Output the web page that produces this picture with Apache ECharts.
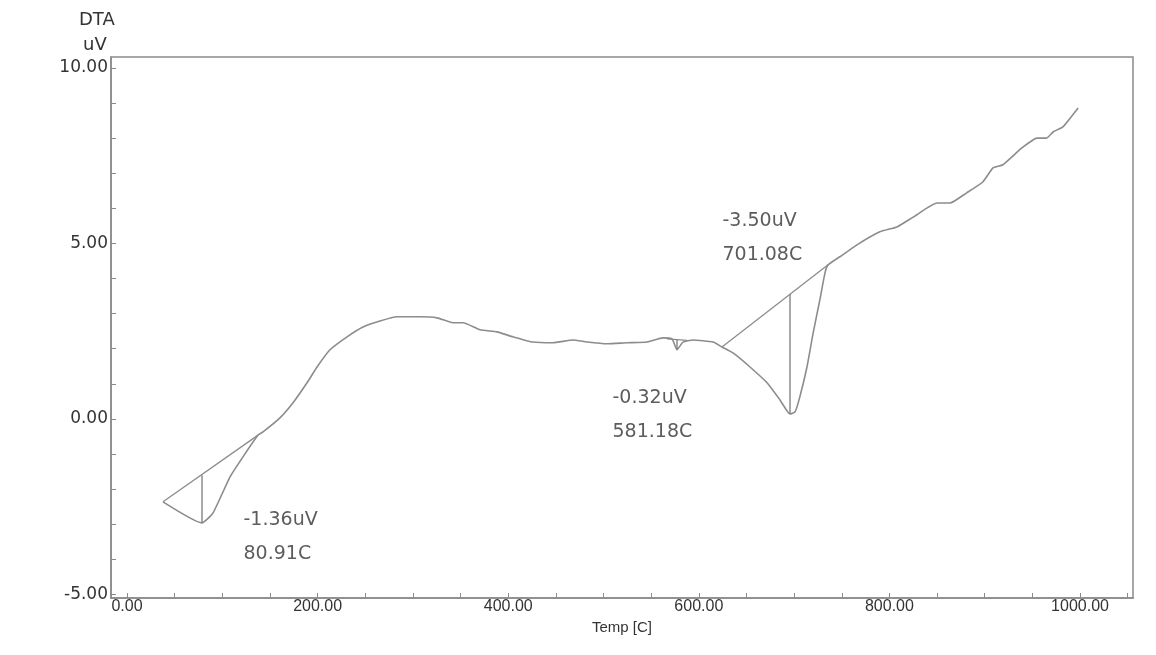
<!DOCTYPE html>
<html>
<head>
<meta charset="utf-8">
<script src="https://cdn.jsdelivr.net/npm/echarts@6/dist/echarts.min.js"></script>
<style>html,body{margin:0;padding:0;background:#fff;}#c{width:1156px;height:655px;}</style>
</head>
<body>
<div id="c"></div>
<script>
// DTA curve: temperature (C) and signal (uV)
const temps = [37.8,78.7,90.2,108.1,121.7,137.5,142.7,160.5,174.2,188.9,199.4,213,230.9,247.6,265.5,283.3,307.5,325.3,342.1,352.6,370.4,388.2,405,426,447,468,482.7,503.7,524.7,545.6,562.4,571.9,577.1,583.4,593.9,614.9,624.3,635.9,653.7,671.6,685.2,695.7,701,706,713.5,720,727,732.4,735.6,748,766,790,808,825,850,863.6,881,898,908.7,919,939,955,965,972,982,998];
const dta   = [-2.36,-2.96,-2.68,-1.65,-1.08,-0.46,-0.37,0.03,0.46,1.03,1.48,1.97,2.34,2.62,2.79,2.91,2.91,2.88,2.74,2.74,2.54,2.48,2.34,2.19,2.17,2.25,2.19,2.14,2.17,2.19,2.31,2.28,1.97,2.19,2.25,2.19,2.05,1.88,1.48,1.03,0.54,0.14,0.2,0.63,1.48,2.45,3.39,4.16,4.39,4.62,4.96,5.33,5.47,5.75,6.15,6.15,6.44,6.75,7.15,7.24,7.72,8.0,8.0,8.18,8.32,8.86];

// Peak baselines (start T, start V, end T, end V) and peak verticals (T, bottom V, top V)
const baseStartT = [37.8, 566.6, 624.3];
const baseStartV = [-2.36, 2.28, 2.05];
const baseEndT   = [137.5, 587.6, 735.6];
const baseEndV   = [-0.46, 2.24, 4.39];
const peakT      = [78.7, 577.1, 695.7];
const peakBottom = [-2.96, 1.97, 0.14];
const peakTop    = [-1.60, 2.26, 3.55];

// Peak annotations
const annoT = [121.7, 508.9, 624.3];
const annoV = [-3.35, 0.11, 5.16];
const annoHeight = ['-1.36uV', '-0.32uV', '-3.50uV'];
const annoTemp   = ['80.91C', '581.18C', '701.08C'];

// Axis ticks
const xLabelVals = [0, 200, 400, 600, 800, 1000];
const xTickVals = [0,50,100,150,200,250,300,350,400,450,500,550,600,650,700,750,800,850,900,950,1000,1050];
const yLabelVals = [-5, 0, 5, 10];
const yTickVals = [-5,-4,-3,-2,-1,0,1,2,3,4,5,6,7,8,9,10];

const lineColor = '#8c8c8c';
const textColor = '#333333';

const series = [];
series.push({
  type: 'line', data: temps.map((t, i) => [t, dta[i]]),
  showSymbol: false, symbol: 'none', smooth: 0.15,
  lineStyle: { color: lineColor, width: 1.6 }, silent: true, z: 3
});
for (let i = 0; i < baseStartT.length; i++) {
  series.push({
    type: 'line', data: [[baseStartT[i], baseStartV[i]], [baseEndT[i], baseEndV[i]]],
    symbol: 'none', lineStyle: { color: lineColor, width: 1.3 }, silent: true
  });
  series.push({
    type: 'line', data: [[peakT[i], peakBottom[i]], [peakT[i], peakTop[i]]],
    symbol: 'none', lineStyle: { color: '#7a7a7a', width: 1.3 }, silent: true
  });
}
series.push({
  type: 'scatter', symbolSize: 1, itemStyle: { color: 'rgba(0,0,0,0)' }, silent: true,
  data: annoT.map((t, i) => ({ value: [t, annoV[i]], h: annoHeight[i], tc: annoTemp[i] })),
  label: {
    show: true, position: 'right', distance: 0, align: 'left', verticalAlign: 'middle',
    fontFamily: 'DejaVu Sans', fontSize: 19, color: textColor, lineHeight: 34,
    formatter: p => p.data.h + '\n' + p.data.tc
  }
});

const chart = echarts.init(document.getElementById('c'), null, { renderer: 'canvas' });
chart.setOption({
  backgroundColor: '#ffffff',
  animation: false,
  grid: { left: 111, right: 23, top: 57, bottom: 57, show: true, borderColor: '#8a8a8a', borderWidth: 1.5, backgroundColor: 'transparent' },
  xAxis: {
    type: 'value', min: -16.8, max: 1055.6,
    name: 'Temp [C]', nameLocation: 'middle', nameGap: 18,
    nameTextStyle: { fontFamily: 'Liberation Sans', fontSize: 15, color: textColor },
    axisLine: { show: true, onZero: false, lineStyle: { color: '#8a8a8a', width: 1.5 } },
    axisTick: { show: true, inside: true, length: 5, customValues: xTickVals, lineStyle: { color: '#8a8a8a' } },
    axisLabel: { customValues: xLabelVals, margin: 1, fontFamily: 'Liberation Sans', fontSize: 16, color: textColor,
      formatter: v => v.toFixed(2) },
    splitLine: { show: false }
  },
  yAxis: {
    type: 'value', min: -5.10, max: 10.31,
    axisLine: { show: true, onZero: false, lineStyle: { color: '#8a8a8a', width: 1.5 } },
    axisTick: { show: true, inside: true, length: 5, customValues: yTickVals, lineStyle: { color: '#8a8a8a' } },
    axisLabel: { customValues: yLabelVals, margin: 3, fontFamily: 'DejaVu Sans', fontSize: 17, color: textColor,
      formatter: v => v.toFixed(2) },
    splitLine: { show: false }
  },
  graphic: [
    { type: 'text', left: 79, top: 11, style: { text: 'DTA', font: '18px "DejaVu Sans"', fill: textColor } },
    { type: 'text', left: 83, top: 36, style: { text: 'uV', font: '18px "DejaVu Sans"', fill: textColor } }
  ],
  series: series
});
</script>
</body>
</html>
